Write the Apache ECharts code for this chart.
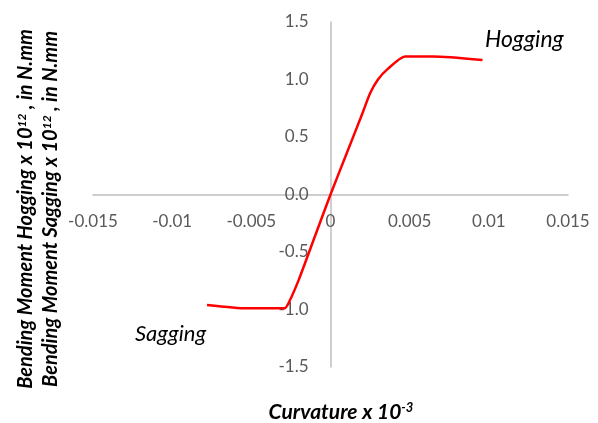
<!DOCTYPE html>
<html><head><meta charset="utf-8">
<script src="https://cdn.jsdelivr.net/npm/echarts@6/dist/echarts.min.js"></script>
<style>html,body{margin:0;padding:0;background:#fff}#c{width:598px;height:423px}</style>
</head><body><div id="c"></div>
<script>
const curvature = [-0.0078, -0.0053, -0.0029, -0.0026, -0.0020, -0.0010, 0, 0.0010, 0.0020, 0.0025, 0.0030, 0.0036, 0.0047, 0.0065, 0.0096];
const moment =    [-0.96,   -0.99,   -0.99,   -0.93,   -0.74,   -0.37,   0, 0.35,   0.70,   0.88,   1.00,   1.09,   1.20,   1.20,   1.17];
const xTicks = [-0.015, -0.01, -0.005, 0, 0.005, 0.01, 0.015];
const yTicks = [-1.5, -1.0, -0.5, 0.0, 0.5, 1.0, 1.5];

const chart = echarts.init(document.getElementById('c'), null, {renderer: 'canvas'});
const FONT = 'Lato, "Open Sans", sans-serif';
const GL = 93, GR = 30, GT = 22, GB = 56;
const gw = 598 - GL - GR, gh = 423 - GT - GB;
// shift axes so they cross at (0,0), like the original
const xZeroFrac = (0 - xTicks[0]) / (xTicks[xTicks.length-1] - xTicks[0]);
const yZeroFrac = (0 - yTicks[0]) / (yTicks[yTicks.length-1] - yTicks[0]);
const supRich = {
  b: {fontFamily: FONT, fontWeight: 'bold', fontStyle: 'italic', fontSize: 20, color: '#000'},
  s: {fontFamily: FONT, fontWeight: 'bold', fontStyle: 'italic', fontSize: 12, color: '#000', verticalAlign: 'top'}
};
const supRich2 = {
  b: {fontFamily: FONT, fontWeight: 'bold', fontStyle: 'italic', fontSize: 21, color: '#000'},
  s: {fontFamily: FONT, fontWeight: 'bold', fontStyle: 'italic', fontSize: 13, color: '#000', verticalAlign: 'top'}
};
chart.setOption({
  animation: false,
  grid: {left: GL, right: GR, top: GT, bottom: GB, containLabel: false},
  xAxis: {
    type: 'value', min: xTicks[0], max: xTicks[xTicks.length-1], interval: 0.005,
    offset: -gh * yZeroFrac,
    axisLine: {onZero: false, lineStyle: {color: '#bfbfbf', width: 1.5}},
    axisTick: {show: false}, splitLine: {show: false},
    axisLabel: {margin: 19, color: '#595959', fontSize: 17, fontFamily: FONT,
      formatter: v => { const t = xTicks.find(k => Math.abs(k - v) < 1e-9); return t === undefined ? '' : String(t); }}
  },
  yAxis: {
    type: 'value', min: yTicks[0], max: yTicks[yTicks.length-1], interval: 0.5,
    offset: -gw * xZeroFrac,
    axisLine: {show: true, onZero: false, lineStyle: {color: '#bfbfbf', width: 1.5}},
    axisTick: {show: false}, splitLine: {show: false},
    axisLabel: {margin: 22, color: '#595959', fontSize: 17, fontFamily: FONT,
      formatter: v => v.toFixed(1)}
  },
  series: [{
    type: 'line', data: curvature.map((x, i) => [x, moment[i]]),
    showSymbol: false, smooth: 0.2,
    lineStyle: {color: '#ff0000', width: 2.5}
  }],
  graphic: [
    {type: 'text', left: 485, top: 28, style: {text: 'Hogging', font: 'italic 23px ' + FONT, fill: '#000'}},
    {type: 'text', left: 135, top: 323, style: {text: 'Sagging', font: 'italic 22px ' + FONT, fill: '#000'}},
    {type: 'text', x: 341, y: 412, style: {text: '{b|Curvature x 10}{s|-3}', rich: supRich2, align: 'center', verticalAlign: 'middle'}},
    {type: 'text', x: 26, y: 209, rotation: Math.PI/2, style: {text: '{b|Bending Moment Hogging x 10}{s|12}{b| , in N.mm}', rich: supRich, align: 'center', verticalAlign: 'middle'}},
    {type: 'text', x: 51, y: 209, rotation: Math.PI/2, style: {text: '{b|Bending Moment Sagging x 10}{s|12}{b| , in N.mm}', rich: supRich, align: 'center', verticalAlign: 'middle'}}
  ]
});
</script></body></html>
